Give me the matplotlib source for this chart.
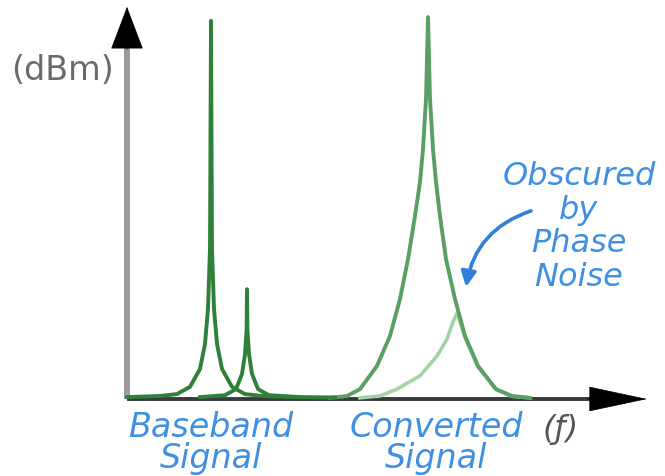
import matplotlib
matplotlib.use("Agg")
import matplotlib.pyplot as plt

# Spectrum sketch: baseband tones vs. up-converted tones smeared by phase noise.
# x = frequency (arbitrary units), y = level (arbitrary dBm scale, peak = 100)

# Baseband signal: main tone
bb_main_f = [0.0, 0.825, 1.25, 1.575, 1.825, 1.95, 2.025, 2.075, 2.1,
             2.125, 2.175, 2.25, 2.375, 2.625, 2.95, 3.375, 4.325]
bb_main_dbm = [0.5, 0.8, 1.3, 3.2, 7.9, 14.5, 23.7, 39.5, 99.5,
               39.5, 23.7, 14.5, 7.9, 3.2, 1.3, 0.8, 0.5]

# Baseband signal: small second tone
bb_side_f = [1.825, 2.45, 2.725, 2.875, 2.95, 2.99, 3.0,
             3.01, 3.05, 3.125, 3.275, 3.55, 4.325, 5.2]
bb_side_dbm = [0.5, 1.0, 2.6, 6.6, 11.8, 18.4, 28.9,
               18.4, 11.8, 6.6, 2.6, 1.0, 0.5, 0.4]

# Converted signal: main tone broadened by phase noise
cv_main_f = [5.075, 5.5, 5.825, 6.25, 6.575, 6.825, 7.025, 7.2, 7.325, 7.4, 7.475, 7.525,
             7.575, 7.65, 7.725, 7.825, 7.975, 8.2, 8.45, 8.775, 9.225, 9.625, 10.075]
cv_main_dbm = [0.3, 0.8, 2.6, 8.7, 16.6, 26.3, 36.8, 48.2, 57.1, 65.8, 78.9, 100.5,
               78.9, 65.8, 57.1, 48.2, 36.8, 26.3, 16.6, 8.7, 2.6, 0.8, 0.3]

# Converted signal: second tone, hidden under the main tone's skirt
cv_side_f = [5.825, 6.325, 6.75, 7.325, 7.75, 8.0, 8.15, 8.25,
             8.45, 8.775, 9.225, 9.625, 10.075]
cv_side_dbm = [0.3, 0.8, 2.6, 6.1, 11.3, 15.8, 20.3, 22.6,
               16.2, 8.4, 2.5, 0.7, 0.3]

GREEN_DARK = "#2f8038"
GREEN_MID = "#5aa064"
GREEN_LIGHT = "#a6d2a8"
BLUE = "#3f8fe3"

fig = plt.figure(figsize=(6.65, 4.77), dpi=100)
ax = fig.add_axes([0, 0, 1, 1])
ax.set_xlim(-3.175, 13.45)
ax.set_ylim(-20.26, 105.26)
ax.axis("off")

# axes (gray vertical shaft, dark horizontal shaft, black heads)
ax.plot([0, 0], [0, 95], color="#9a9a9a", lw=4.3, solid_capstyle="butt", zorder=1)
ax.annotate("", xy=(0, 103.2), xytext=(0, 92),
            arrowprops=dict(arrowstyle="-|>,head_length=2.9,head_width=1.1",
                            color="black", lw=0.5, shrinkA=0, shrinkB=0),
            zorder=3)
ax.plot([0, 12.0], [0, 0], color="#3a3a3a", lw=2.8, solid_capstyle="butt", zorder=1)
ax.annotate("", xy=(13.0, 0), xytext=(11.5, 0),
            arrowprops=dict(arrowstyle="-|>,head_length=4.0,head_width=0.85",
                            color="black", lw=0.5, shrinkA=0, shrinkB=0),
            zorder=3)

# spectra
ax.plot(cv_side_f, cv_side_dbm, color=GREEN_LIGHT, lw=2.6, zorder=2)
ax.plot(cv_main_f, cv_main_dbm, color=GREEN_MID, lw=2.8, zorder=2)
ax.plot(bb_side_f, bb_side_dbm, color=GREEN_DARK, lw=2.8, zorder=2)
ax.plot(bb_main_f, bb_main_dbm, color=GREEN_DARK, lw=2.8, zorder=2)

# labels
ax.text(-1.6, 86.8, "(dBm)", color="#6a6a6a", fontsize=24,
        ha="center", va="center")
ax.text(10.85, -7.8, "(ƒ)", color="#555555", fontsize=23,
        ha="center", va="center", style="italic")
ax.text(2.1, -11.3, "Baseband\nSignal", color=BLUE, fontsize=24, style="italic",
        ha="center", va="center", ma="center", linespacing=0.92)
ax.text(7.725, -11.3, "Converted\nSignal", color=BLUE, fontsize=24, style="italic",
        ha="center", va="center", ma="center", linespacing=0.92)
ax.text(11.3, 45.5, "Obscured\nby\nPhase\nNoise", color=BLUE, fontsize=23,
        style="italic", ha="center", va="center", ma="center", linespacing=1.1)

# curved pointer to the hidden tone
ax.annotate("", xy=(8.475, 29.5), xytext=(10.1, 49.5),
            arrowprops=dict(arrowstyle="-|>,head_length=0.9,head_width=0.45",
                            connectionstyle="arc3,rad=0.3",
                            color="#2f80d8", lw=2.6, shrinkA=0, shrinkB=0))

fig.savefig("out.png", dpi=100)
